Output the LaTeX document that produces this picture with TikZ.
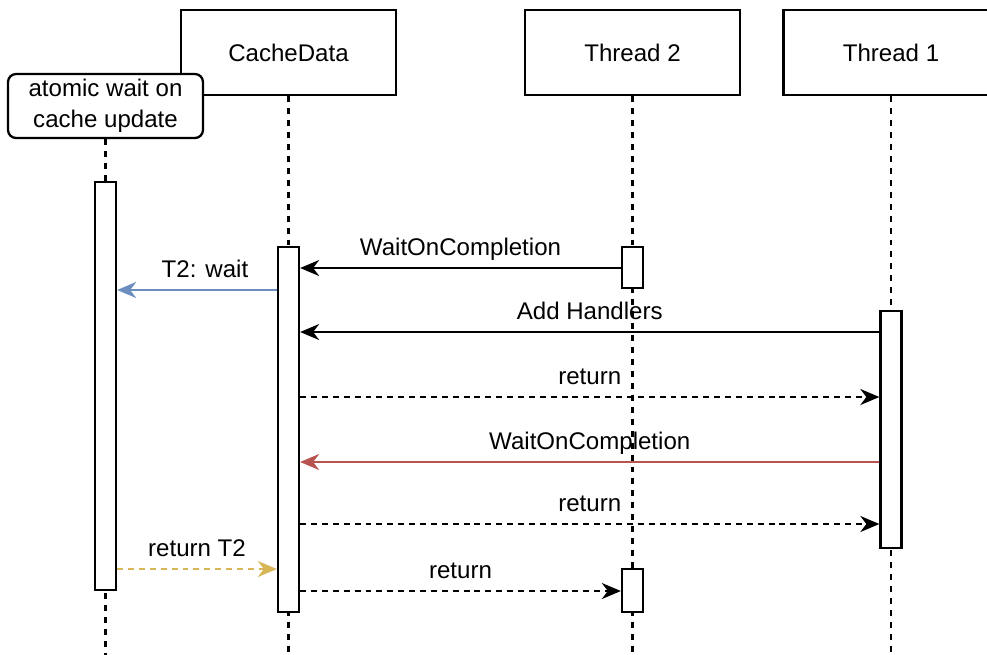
\documentclass[tikz,border=0pt]{standalone}
\usepackage{fontspec}
\setmainfont{Liberation Sans}
\usepackage{tikz}
\usetikzlibrary{arrows.meta}

\definecolor{waitblue}{HTML}{6C8EBF}
\definecolor{waitred}{HTML}{B85450}
\definecolor{retyellow}{HTML}{D6B656}

\tikzset{
    head/.style={draw, line width=1.3pt, minimum width=4.3cm, minimum height=1.7cm, inner sep=0pt},
    note/.style={draw, line width=1.3pt, rounded corners=0.16cm, minimum width=3.9cm, minimum height=1.28cm, align=center, inner sep=0pt},
    actbar/.style={draw, fill=white, line width=1.3pt, minimum width=0.42cm, inner sep=0pt},
    life/.style={line width=1.2pt, dash pattern=on 3.4pt off 3.4pt},
    msg/.style={line width=1.25pt, -{Stealth[length=0.38cm, width=0.32cm, inset=0.12cm]}},
    reply/.style={msg, dash pattern=on 3.4pt off 2.8pt},
    lbl/.style={text height=0.72em, text depth=0pt, inner sep=0pt, yshift=0.37cm}
}

\begin{document}
\begin{tikzpicture}[x={(0.02cm,0)}, y={(0,-0.02cm)}, font=\fontsize{13.7}{17.5}\selectfont]

    \useasboundingbox (0,0) rectangle (987,654);
    \clip (0,0) rectangle (987,654);

    \node[head] (cachedata) at (288.5,52.5) {CacheData};
    \node[head] (thread2) at (632.5,52.5) {Thread 2};
    \node[head] (thread1) at (891,52.5) {Thread 1};
    \node[note, fill=white] (atomicwait) at (105.5,106) {atomic wait on\\cache update};

    \draw[life] (atomicwait.south) -- (105.5,660);
    \draw[life] (cachedata.south) -- (288.5,660);
    \draw[life] (thread2.south) -- (632.5,660);
    \draw[life] (thread1.south) -- (891,660);

    \node[actbar, minimum height=8.16cm] (waitbar) at (105.5,386) {};
    \node[actbar, minimum height=7.3cm] (cachebar) at (288.5,429.5) {};
    \node[actbar, minimum height=0.82cm] (t2bara) at (632.5,267.5) {};
    \node[actbar, minimum height=0.86cm] (t2barb) at (632.5,590.5) {};
    \node[actbar, minimum height=4.74cm] (t1bar) at (891,429.5) {};

    \foreach \n/\y in {1/268, 2/290, 3/332, 4/397, 5/462, 6/524, 7/569, 8/591}
        \coordinate (m\n) at (0,\y);

    \draw[msg] (t2bara.west |- m1) -- node[lbl] {WaitOnCompletion} (cachebar.east |- m1);
    \draw[msg, waitblue] (cachebar.west |- m2) -- node[lbl, pos=0.45, black] {T2: wait} (waitbar.east |- m2);
    \draw[msg] (t1bar.west |- m3) -- node[lbl] {Add Handlers} (cachebar.east |- m3);
    \draw[reply] (cachebar.east |- m4) -- node[lbl] {return} (t1bar.west |- m4);
    \draw[msg, waitred] (t1bar.west |- m5) -- node[lbl, black] {WaitOnCompletion} (cachebar.east |- m5);
    \draw[reply] (cachebar.east |- m6) -- node[lbl] {return} (t1bar.west |- m6);
    \draw[reply, retyellow] (waitbar.east |- m7) -- node[lbl, black] {return T2} (cachebar.west |- m7);
    \draw[reply] (cachebar.east |- m8) -- node[lbl] {return} (t2barb.west |- m8);

\end{tikzpicture}
\end{document}
